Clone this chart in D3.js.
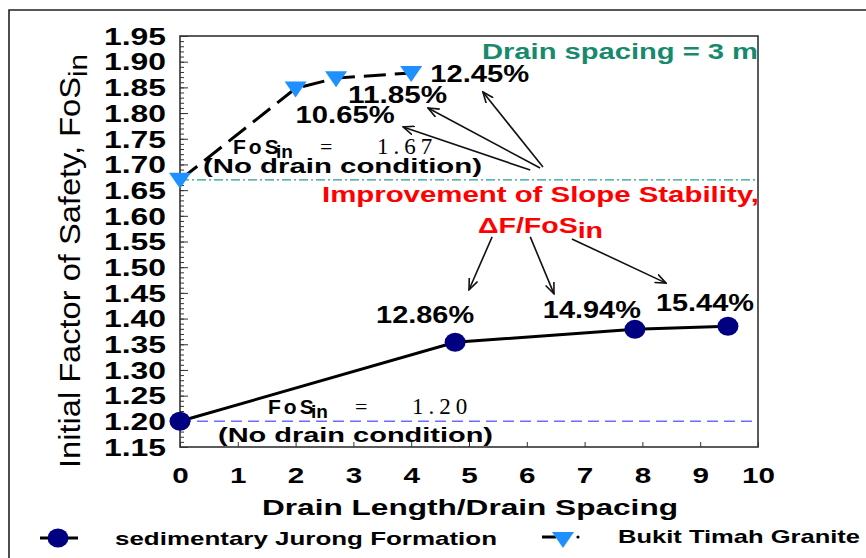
<!DOCTYPE html>
<html>
<head>
<meta charset="utf-8">
<script src="https://cdn.jsdelivr.net/npm/d3@7"></script>
<style>
  body { margin: 0; background: #fff; }
  svg { display: block; font-family: "Liberation Sans", Arial, sans-serif; }
</style>
</head>
<body>
<div id="chart"></div>
<script>
// Chart data
const jurongX = [0, 4.76, 7.87, 9.48];
const jurongY = [1.20, 1.354, 1.379, 1.385];
const jurongPct = ["", "12.86%", "14.94%", "15.44%"];

const graniteX = [0, 2.0, 2.7, 4.0];
const graniteY = [1.67, 1.848, 1.868, 1.878];
const granitePct = ["", "10.65%", "11.85%", "12.45%"];

const yTickValues = [1.15, 1.20, 1.25, 1.30, 1.35, 1.40, 1.45, 1.50, 1.55, 1.60, 1.65, 1.70, 1.75, 1.80, 1.85, 1.90, 1.95];
const yTickLabels = ["1.15", "1.20", "1.25", "1.30", "1.35", "1.40", "1.45", "1.50", "1.55", "1.60", "1.65", "1.70", "1.75", "1.80", "1.85", "1.90", "1.95"];
const xTickValues = [0, 1, 2, 3, 4, 5, 6, 7, 8, 9, 10];
const xTickLabels = ["0", "1", "2", "3", "4", "5", "6", "7", "8", "9", "10"];

const noDrainGranite = 1.67;
const noDrainJurong = 1.20;

// arrows, in data units: [x1, y1, x2, y2]
const topArrows = [[6.28, 1.695, 5.24, 1.841], [6.23, 1.693, 4.29, 1.810], [6.06, 1.689, 3.86, 1.773]];
const bottomArrows = [[5.40, 1.559, 5.0, 1.456], [6.06, 1.559, 6.47, 1.448], [6.78, 1.555, 8.41, 1.469]];

const width = 866, height = 558;
const svg = d3.select("#chart").append("svg")
    .attr("width", width)
    .attr("height", height);

const x = d3.scaleLinear().domain([0, 10]).range([180, 758]);
const y = d3.scaleLinear().domain([1.15, 1.95]).range([447, 36]);

// outer frame
svg.append("path")
    .attr("d", "M9,570 L9,10 L870,10")
    .attr("fill", "none")
    .attr("stroke", "#222")
    .attr("stroke-width", 1.6);

// arrow marker
svg.append("defs").append("marker")
    .attr("id", "arr")
    .attr("viewBox", "0 -5 12 10")
    .attr("refX", 11).attr("refY", 0)
    .attr("markerWidth", 12).attr("markerHeight", 10)
    .attr("markerUnits", "userSpaceOnUse")
    .attr("orient", "auto")
    .append("path")
    .attr("d", "M0,-4.5 L11,0 L0,4.5")
    .attr("fill", "none")
    .attr("stroke", "#111")
    .attr("stroke-width", 1.6);

// reference lines
svg.append("line")
    .attr("x1", x(0)).attr("x2", x(10))
    .attr("y1", y(noDrainGranite)).attr("y2", y(noDrainGranite))
    .attr("stroke", "#2b9c8c").attr("stroke-width", 1.2)
    .attr("stroke-dasharray", "9,3,2,3");
svg.append("line")
    .attr("x1", x(0)).attr("x2", x(10))
    .attr("y1", y(noDrainJurong)).attr("y2", y(noDrainJurong))
    .attr("stroke", "#6b6bff").attr("stroke-width", 1.4)
    .attr("stroke-dasharray", "11,6");

// plot frame
svg.append("rect")
    .attr("x", x(0)).attr("y", y(1.95))
    .attr("width", x(10) - x(0)).attr("height", y(1.15) - y(1.95))
    .attr("fill", "none")
    .attr("stroke", "#333")
    .attr("stroke-width", 1.6);

// y ticks (inward) minor + major
const yMinor = d3.range(115, 196).map(d => d / 100);
svg.append("g")
    .attr("transform", `translate(${x(0)},0)`)
    .call(d3.axisRight(y).tickValues(yMinor).tickSize(4).tickFormat(""))
    .call(g => g.select(".domain").remove())
    .call(g => g.selectAll("line").attr("stroke", "#333"));
svg.append("g")
    .attr("transform", `translate(${x(0)},0)`)
    .call(d3.axisRight(y).tickValues(yTickValues).tickSize(8).tickFormat(""))
    .call(g => g.select(".domain").remove())
    .call(g => g.selectAll("line").attr("stroke", "#333"));

// y labels
svg.append("g")
    .attr("transform", `translate(${x(0)},0)`)
    .call(d3.axisLeft(y).tickValues(yTickValues).tickSize(0).tickPadding(14)
        .tickFormat((d, i) => yTickLabels[i]))
    .call(g => g.select(".domain").remove())
    .call(g => g.selectAll("text")
        .attr("fill", "#000")
        .attr("font-family", "Liberation Sans, Arial, sans-serif")
        .attr("font-size", 23).attr("font-weight", "bold")
        .attr("dy", "0.36em")
        .attr("textLength", 62).attr("lengthAdjust", "spacingAndGlyphs"));

// x ticks inward
svg.append("g")
    .attr("transform", `translate(0,${y(1.15)})`)
    .call(d3.axisTop(x).tickValues(xTickValues).tickSize(5).tickFormat(""))
    .call(g => g.select(".domain").remove())
    .call(g => g.selectAll("line").attr("stroke", "#333"));

// x labels
svg.append("g")
    .attr("transform", `translate(0,${y(1.15)})`)
    .call(d3.axisBottom(x).tickValues(xTickValues).tickSize(0).tickPadding(20)
        .tickFormat((d, i) => xTickLabels[i]))
    .call(g => g.select(".domain").remove())
    .call(g => g.selectAll("text")
        .attr("fill", "#000")
        .attr("font-family", "Liberation Sans, Arial, sans-serif")
        .attr("font-size", 22).attr("font-weight", "bold")
        .attr("textLength", d => xTickLabels[xTickValues.indexOf(d)].length * 16.5)
        .attr("lengthAdjust", "spacingAndGlyphs"));

// helper for stretched text
function label(str, px, py, size, len, opts = {}) {
    return svg.append("text")
        .attr("x", px).attr("y", py)
        .attr("font-size", size)
        .attr("font-weight", opts.weight || "bold")
        .attr("font-family", opts.family || "Liberation Sans, Arial, sans-serif")
        .attr("fill", opts.fill || "#000")
        .attr("text-anchor", opts.anchor || "start")
        .attr("textLength", len)
        .attr("lengthAdjust", "spacingAndGlyphs")
        .text(str);
}

// axis titles
label("Drain Length/Drain Spacing", 262, 515, 22, 416);

const yTitle = svg.append("text")
    .attr("transform", "translate(80,468) rotate(-90) scale(1,1.3)")
    .attr("font-size", 22)
    .attr("font-weight", "normal")
    .attr("fill", "#000")
    .attr("textLength", 414)
    .attr("lengthAdjust", "spacingAndGlyphs");
yTitle.append("tspan").text("Initial Factor of Safety, FoS");
yTitle.append("tspan").attr("dy", 5).attr("font-size", 20).text("in");

// data lines
const line = d3.line().x(d => x(d[0])).y(d => y(d[1]));
const jurong = jurongX.map((d, i) => [d, jurongY[i]]);
const granite = graniteX.map((d, i) => [d, graniteY[i]]);

svg.append("path")
    .datum(jurong)
    .attr("d", line)
    .attr("fill", "none")
    .attr("stroke", "#000")
    .attr("stroke-width", 3);

svg.append("path")
    .datum(granite)
    .attr("d", line)
    .attr("fill", "none")
    .attr("stroke", "#000")
    .attr("stroke-width", 3)
    .attr("stroke-dasharray", "22,9");

// markers
const triPath = "M-11,-7 L11,-7 L0,9 Z";
svg.append("g").selectAll("ellipse")
    .data(jurong)
    .join("ellipse")
    .attr("cx", d => x(d[0])).attr("cy", d => y(d[1]))
    .attr("rx", 10.5).attr("ry", 9.5)
    .attr("fill", "#000080");

svg.append("g").selectAll("path")
    .data(granite)
    .join("path")
    .attr("transform", d => `translate(${x(d[0])},${y(d[1])})`)
    .attr("d", triPath)
    .attr("fill", "#1e90ff");

// percentage labels (offset from their points)
const granitePctOffset = [null, [0, 35], [12, 25], [19, 9]];
const jurongPctOffset = [null, [-79, -19], [-92, -11], [-72, -15]];
granite.forEach((d, i) => {
    if (!granitePct[i]) return;
    label(granitePct[i], x(d[0]) + granitePctOffset[i][0], y(d[1]) + granitePctOffset[i][1], 23, 99);
});
jurong.forEach((d, i) => {
    if (!jurongPct[i]) return;
    label(jurongPct[i], x(d[0]) + jurongPctOffset[i][0], y(d[1]) + jurongPctOffset[i][1], 23, 98);
});

// arrows
svg.append("g").selectAll("line")
    .data(topArrows.concat(bottomArrows))
    .join("line")
    .attr("x1", d => x(d[0])).attr("y1", d => y(d[1]))
    .attr("x2", d => x(d[2])).attr("y2", d => y(d[3]))
    .attr("stroke", "#111")
    .attr("stroke-width", 1.6)
    .attr("marker-end", "url(#arr)");

// no-drain annotations: one text element, pieces placed with tspans
function fosLabel(x0, base, value) {
    const t = svg.append("text")
        .attr("y", base)
        .attr("fill", "#000");
    t.append("tspan").attr("x", x0)
        .attr("font-size", 21).attr("font-weight", "bold")
        .attr("letter-spacing", 3)
        .text("FoS");
    t.append("tspan").attr("x", x0 + 43).attr("dy", 4)
        .attr("font-size", 19).attr("font-weight", "bold")
        .text("in");
    t.append("tspan").attr("x", x0 + 87).attr("dy", -4)
        .attr("font-size", 22).attr("font-family", "Liberation Serif, serif")
        .text("=");
    t.append("tspan").attr("x", x0 + 144)
        .attr("font-size", 23).attr("font-family", "Liberation Serif, serif")
        .attr("letter-spacing", 5)
        .text(value);
}
fosLabel(233, y(noDrainGranite) - 26, "1.67");
label("(No drain condition)", 203, y(noDrainGranite) - 7, 20, 279);
fosLabel(268, y(noDrainJurong) - 7, "1.20");
label("(No drain condition)", 218, y(noDrainJurong) + 21, 20, 275);

// titles inside the plot
label("Drain spacing = 3 m", 482, 59, 22, 276, { fill: "#178a6e" });
label("Improvement of Slope Stability,", 322, 202, 22, 437, { fill: "#ff0000" });
const dF = svg.append("text")
    .attr("x", 478).attr("y", 233)
    .attr("font-size", 22).attr("font-weight", "bold")
    .attr("fill", "#ff0000")
    .attr("textLength", 125).attr("lengthAdjust", "spacingAndGlyphs");
dF.append("tspan").text("\u0394F/FoS");
dF.append("tspan").attr("dy", 5).text("in");

// legend
svg.append("line")
    .attr("x1", 40).attr("x2", 78).attr("y1", 538).attr("y2", 538)
    .attr("stroke", "#000").attr("stroke-width", 3);
svg.append("ellipse")
    .attr("cx", 58).attr("cy", 538).attr("rx", 10.5).attr("ry", 9.5)
    .attr("fill", "#000080");
label("sedimentary Jurong Formation", 115, 545, 19, 382);

svg.append("line")
    .attr("x1", 542).attr("x2", 556).attr("y1", 537).attr("y2", 537)
    .attr("stroke", "#000").attr("stroke-width", 3);
svg.append("circle")
    .attr("cx", 578).attr("cy", 537).attr("r", 1.6)
    .attr("fill", "#000");
svg.append("path")
    .attr("transform", "translate(563,539)")
    .attr("d", triPath)
    .attr("fill", "#1e90ff");
label("Bukit Timah Granite", 618, 543, 19, 242);
</script>
</body>
</html>
